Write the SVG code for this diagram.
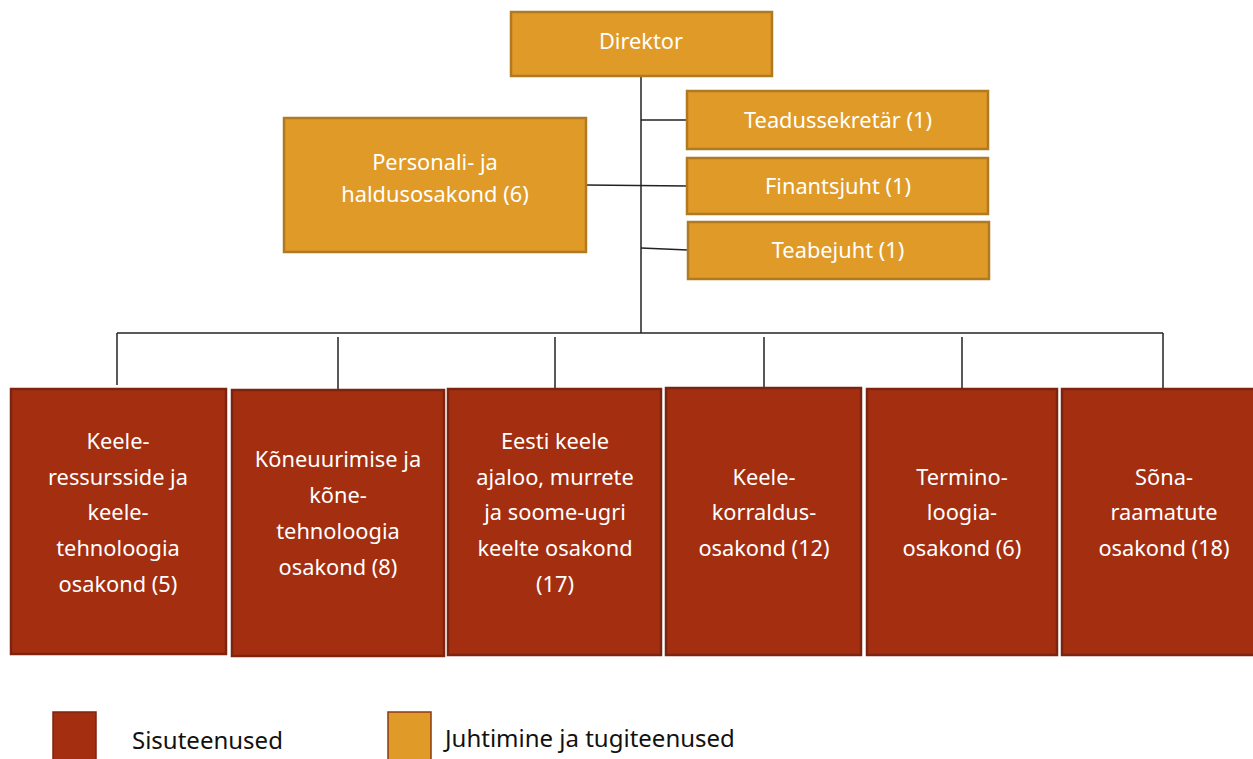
<svg xmlns="http://www.w3.org/2000/svg" width="1253" height="759" viewBox="0 0 1253 759">
<style>
.o{fill:#E09A28;stroke:#B07A22;stroke-width:2.5}
.r{fill:#A32E10;stroke:#7D2410;stroke-width:2.5}
.t{font-family:"Noto Sans","Open Sans",sans-serif;font-size:21.8px;fill:#FFFFFF;text-anchor:middle}
.l{font-family:"Noto Sans","Open Sans",sans-serif;font-size:24px;fill:#111111}
.c{stroke:#222222;stroke-width:1.5;fill:none}
</style>
<rect width="1253" height="759" fill="#FFFFFF"/>
<g id="connectors">
<line class="c" x1="641" y1="76" x2="641" y2="333"/>
<line class="c" x1="641" y1="120" x2="687" y2="120"/>
<line class="c" x1="586" y1="185" x2="687" y2="186"/>
<line class="c" x1="641" y1="248" x2="688" y2="250"/>
<line class="c" x1="117" y1="333" x2="1163" y2="333"/>
<line class="c" x1="117" y1="333" x2="117" y2="385"/>
<line class="c" x1="338" y1="337" x2="338" y2="390"/>
<line class="c" x1="555" y1="337" x2="555" y2="389"/>
<line class="c" x1="764" y1="337" x2="764" y2="388"/>
<line class="c" x1="962" y1="337" x2="962" y2="389"/>
<line class="c" x1="1163" y1="333" x2="1163" y2="389"/>
</g>
<g id="direktor"><rect class="o" x="511" y="12" width="261" height="64"/><text class="t" x="641" y="49">Direktor</text></g>
<g id="teadussekretar"><rect class="o" x="687" y="91" width="301" height="58"/><text class="t" x="838" y="128">Teadussekretär (1)</text></g>
<g id="finantsjuht"><rect class="o" x="687" y="158" width="301" height="56"/><text class="t" x="838" y="194">Finantsjuht (1)</text></g>
<g id="teabejuht"><rect class="o" x="688" y="222" width="301" height="57"/><text class="t" x="838" y="258">Teabejuht (1)</text></g>
<g id="personali"><rect class="o" x="284" y="118" width="302" height="134"/><text class="t" x="435" y="170">Personali- ja</text><text class="t" x="435" y="202">haldusosakond (6)</text></g>
<g id="keeleressursside"><rect class="r" x="11" y="389" width="215" height="265"/>
<text class="t" x="118" y="449">Keele-</text><text class="t" x="118" y="485">ressursside ja</text><text class="t" x="118" y="520">keele-</text><text class="t" x="118" y="556">tehnoloogia</text><text class="t" x="118" y="592">osakond (5)</text></g>
<g id="koneuurimise"><rect class="r" x="232" y="390" width="212" height="266"/>
<text class="t" x="338" y="467">Kõneuurimise ja</text><text class="t" x="338" y="503">kõne-</text><text class="t" x="338" y="539">tehnoloogia</text><text class="t" x="338" y="575">osakond (8)</text></g>
<g id="eestikeele"><rect class="r" x="448" y="389" width="213" height="266"/>
<text class="t" x="555" y="449">Eesti keele</text><text class="t" x="555" y="485">ajaloo, murrete</text><text class="t" x="555" y="520">ja soome-ugri</text><text class="t" x="555" y="556">keelte osakond</text><text class="t" x="555" y="592">(17)</text></g>
<g id="keelekorraldus"><rect class="r" x="666" y="388" width="195" height="267"/>
<text class="t" x="764" y="485">Keele-</text><text class="t" x="764" y="520">korraldus-</text><text class="t" x="764" y="556">osakond (12)</text></g>
<g id="terminoloogia"><rect class="r" x="867" y="389" width="190" height="266"/>
<text class="t" x="962" y="485">Termino-</text><text class="t" x="962" y="520">loogia-</text><text class="t" x="962" y="556">osakond (6)</text></g>
<g id="sonaraamatute"><rect class="r" x="1062" y="389" width="195" height="266"/>
<text class="t" x="1164" y="485">Sõna-</text><text class="t" x="1164" y="520">raamatute</text><text class="t" x="1164" y="556">osakond (18)</text></g>
<g id="legend">
<rect x="53" y="712" width="43" height="52" fill="#A32E10" stroke="#7D2410" stroke-width="1.5"/>
<text class="l" x="132" y="749">Sisuteenused</text>
<rect x="388" y="712" width="43" height="52" fill="#E09A28" stroke="#8B3A14" stroke-width="1.5"/>
<text class="l" x="445" y="747">Juhtimine ja tugiteenused</text>
</g>
</svg>
